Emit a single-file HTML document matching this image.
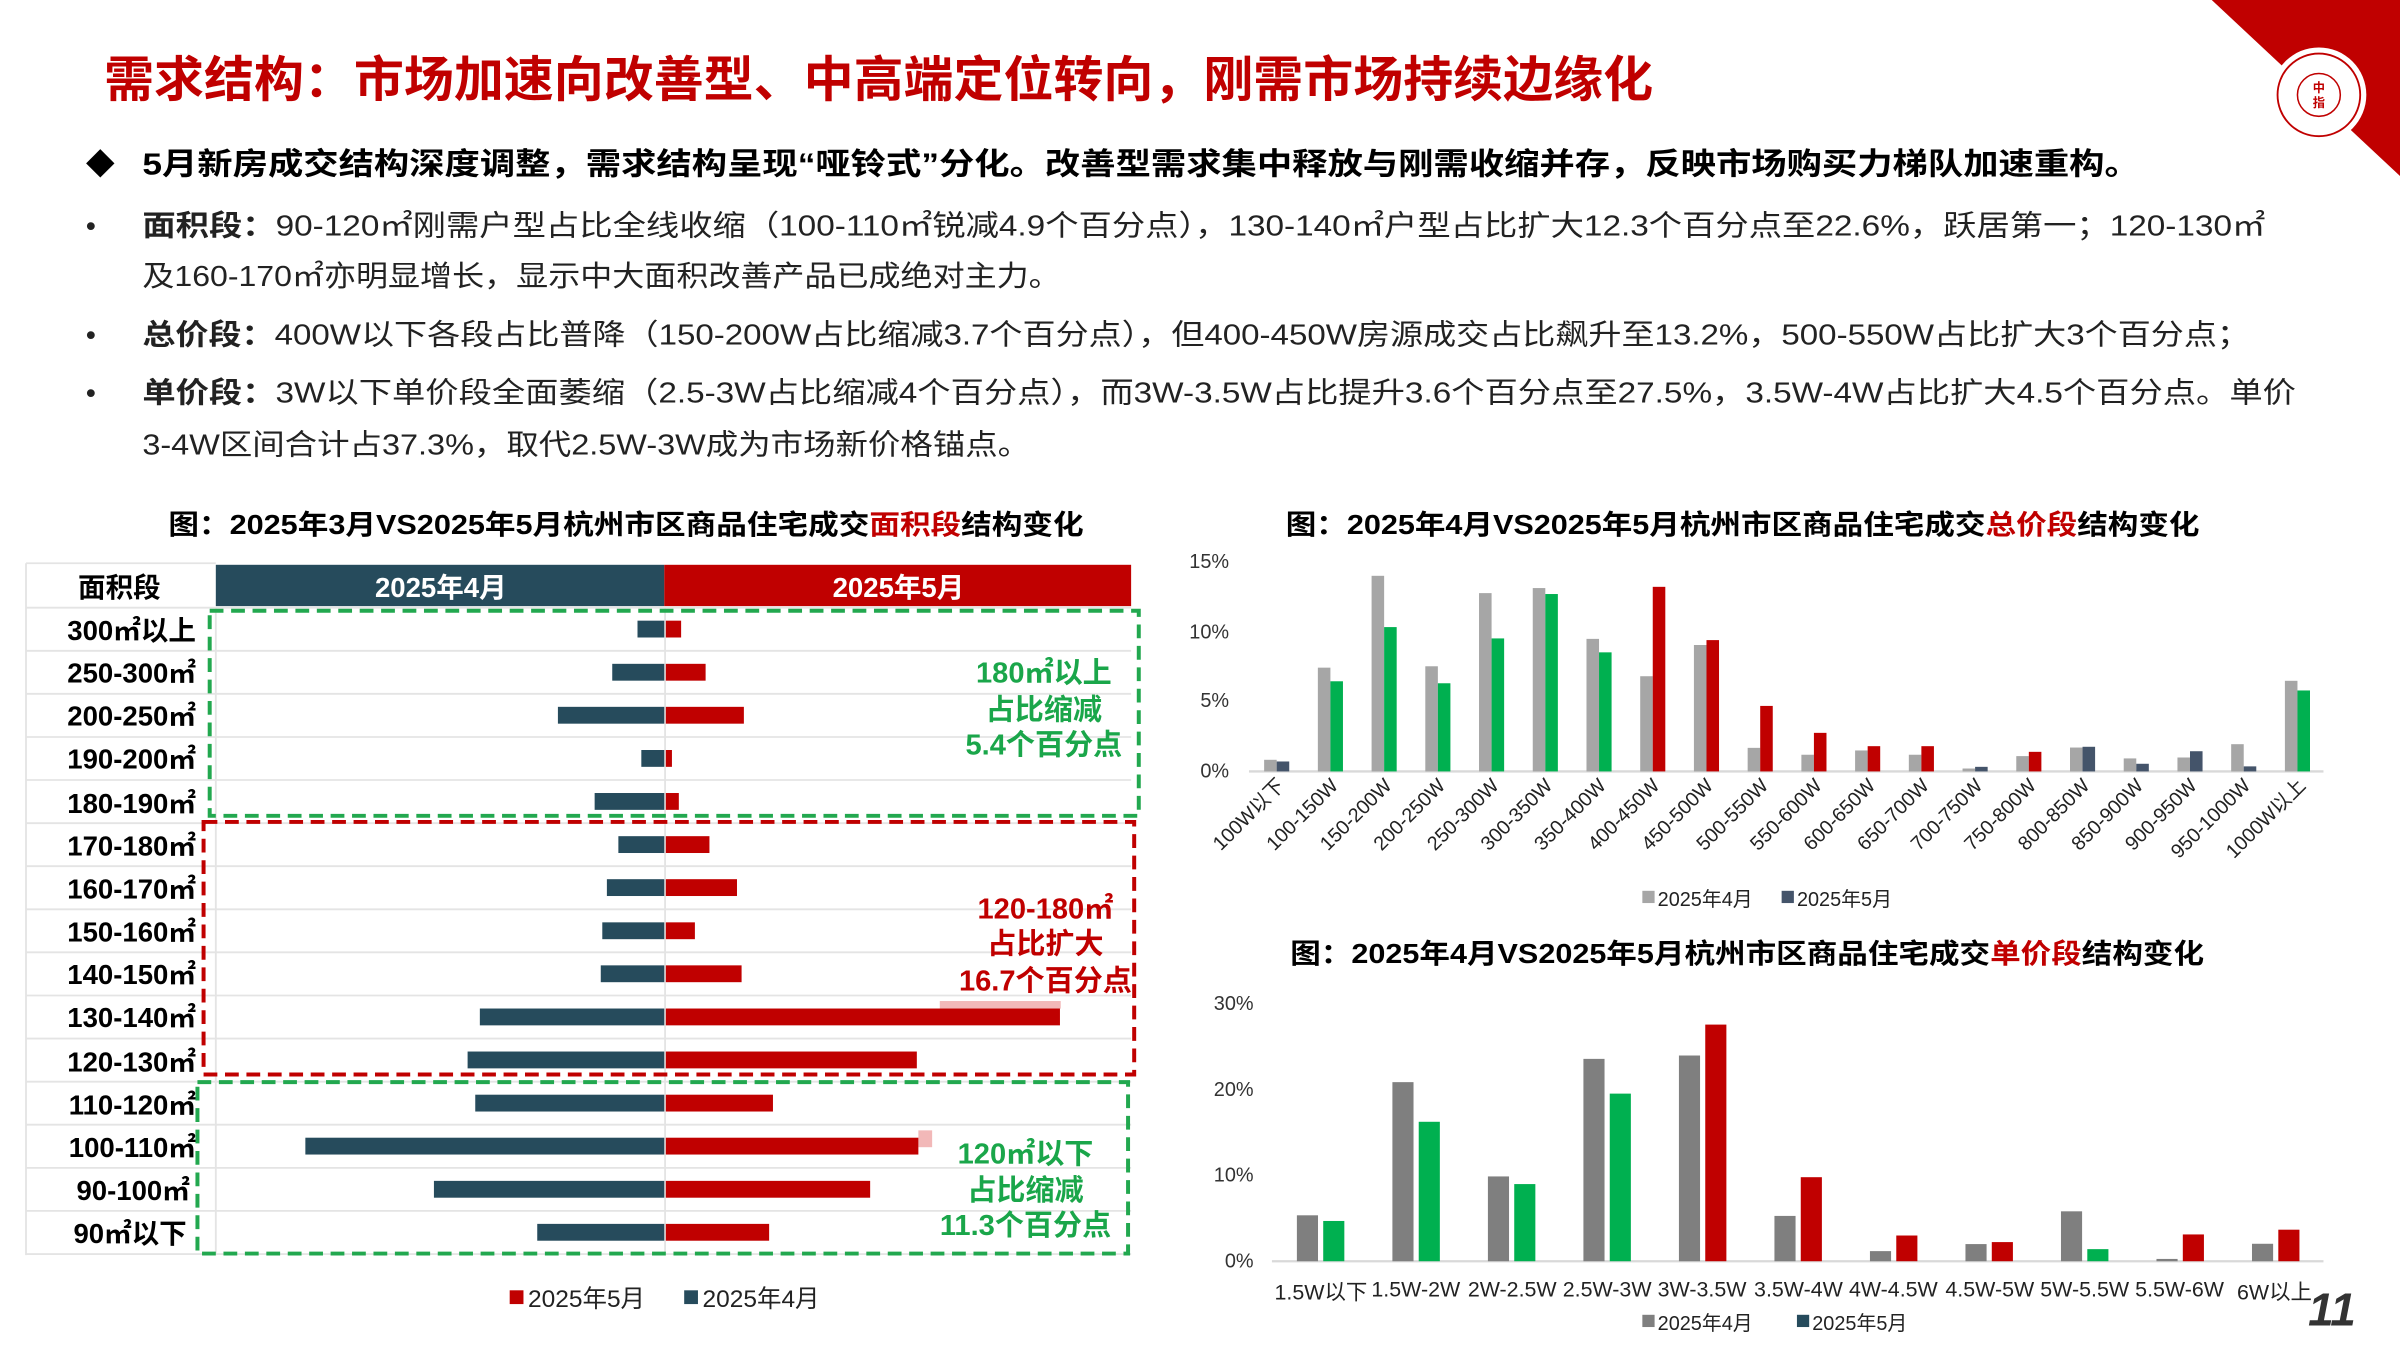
<!DOCTYPE html>
<html><head><meta charset="utf-8"><style>
html,body{margin:0;padding:0;background:#fff;}
svg{display:block;}
text{font-family:"Liberation Sans","Noto Sans CJK SC",sans-serif;}
.b{font-weight:bold;}
</style></head><body>
<svg width="2400" height="1350" viewBox="0 0 1568 882" xmlns="http://www.w3.org/2000/svg">
<rect width="1568" height="882" fill="#fff"/>
<!-- corner -->
<polygon points="1445,0 1568,0 1568,115" fill="#c00000"/>
<circle cx="1515" cy="62" r="31" fill="#fff"/>
<circle cx="1515" cy="62" r="27" fill="none" stroke="#c00000" stroke-width="1.2"/>
<circle cx="1515" cy="62" r="14" fill="none" stroke="#c00000" stroke-width="1"/>
<text x="1515" y="60" font-size="8" fill="#c00000" text-anchor="middle" class="b">中</text>
<text x="1515" y="70" font-size="8" fill="#c00000" text-anchor="middle" class="b">指</text>
<!-- title -->
<text x="68" y="63" font-size="32" class="b" fill="#c00000" textLength="1012" lengthAdjust="spacingAndGlyphs">需求结构：市场加速向改善型、中高端定位转向，刚需市场持续边缘化</text>
<text x="56" y="114" font-size="19" fill="#000">◆</text>
<text x="93" y="114" font-size="20" class="b" fill="#000" textLength="1305" lengthAdjust="spacingAndGlyphs">5月新房成交结构深度调整，需求结构呈现“哑铃式”分化。改善型需求集中释放与刚需收缩并存，反映市场购买力梯队加速重构。</text>
<g font-size="19" fill="#222">
<text x="56" y="154">•</text><text x="56" y="225">•</text><text x="56" y="263">•</text>
<text x="93" y="154" textLength="1387" lengthAdjust="spacingAndGlyphs"><tspan class="b">面积段：</tspan>90-120㎡刚需户型占比全线收缩（100-110㎡锐减4.9个百分点），130-140㎡户型占比扩大12.3个百分点至22.6%，跃居第一；120-130㎡</text>
<text x="93" y="187" textLength="600" lengthAdjust="spacingAndGlyphs">及160-170㎡亦明显增长，显示中大面积改善产品已成绝对主力。</text>
<text x="93" y="225" textLength="1377" lengthAdjust="spacingAndGlyphs"><tspan class="b">总价段：</tspan>400W以下各段占比普降（150-200W占比缩减3.7个百分点），但400-450W房源成交占比飙升至13.2%，500-550W占比扩大3个百分点；</text>
<text x="93" y="263" textLength="1407" lengthAdjust="spacingAndGlyphs"><tspan class="b">单价段：</tspan>3W以下单价段全面萎缩（2.5-3W占比缩减4个百分点），而3W-3.5W占比提升3.6个百分点至27.5%，3.5W-4W占比扩大4.5个百分点。单价</text>
<text x="93" y="297" textLength="580" lengthAdjust="spacingAndGlyphs">3-4W区间合计占37.3%，取代2.5W-3W成为市场新价格锚点。</text>
</g>

<!-- LEFT TABLE CHART -->
<text x="110" y="349" font-size="18" class="b" fill="#000" textLength="598" lengthAdjust="spacingAndGlyphs">图：2025年3月VS2025年5月杭州市区商品住宅成交<tspan fill="#c00000">面积段</tspan>结构变化</text>
<rect x="141" y="369" width="293" height="27" fill="#264b5c"/>
<rect x="434" y="369" width="305" height="27" fill="#c00000"/>
<text x="78" y="390" font-size="18" class="b" text-anchor="middle">面积段</text>
<text x="288" y="390" font-size="18" class="b" fill="#fff" text-anchor="middle">2025年4月</text>
<text x="587" y="390" font-size="18" class="b" fill="#fff" text-anchor="middle">2025年5月</text>
<g stroke="#e4e4e4" stroke-width="1.2">
<line x1="17" y1="368" x2="141" y2="368"/><line x1="17" y1="368" x2="17" y2="820"/>
<line x1="17" y1="397" x2="739" y2="397"/><line x1="17" y1="425.2" x2="739" y2="425.2"/><line x1="17" y1="453.3" x2="739" y2="453.3"/><line x1="17" y1="481.5" x2="739" y2="481.5"/><line x1="17" y1="509.6" x2="739" y2="509.6"/><line x1="17" y1="537.8" x2="739" y2="537.8"/><line x1="17" y1="565.9" x2="739" y2="565.9"/><line x1="17" y1="594.1" x2="739" y2="594.1"/><line x1="17" y1="622.2" x2="739" y2="622.2"/><line x1="17" y1="650.4" x2="739" y2="650.4"/><line x1="17" y1="678.5" x2="739" y2="678.5"/><line x1="17" y1="706.7" x2="739" y2="706.7"/><line x1="17" y1="734.8" x2="739" y2="734.8"/><line x1="17" y1="763" x2="739" y2="763"/><line x1="17" y1="791.1" x2="739" y2="791.1"/><line x1="17" y1="819.3" x2="739" y2="819.3"/>
<line x1="141" y1="397" x2="141" y2="820"/><line x1="434.5" y1="397" x2="434.5" y2="820"/>
</g>
<g font-size="18" class="b" text-anchor="end" fill="#000">
<text x="128" y="418">300㎡以上</text><text x="128" y="446">250-300㎡</text><text x="128" y="474">200-250㎡</text><text x="128" y="502">190-200㎡</text><text x="128" y="531">180-190㎡</text><text x="128" y="559">170-180㎡</text><text x="128" y="587">160-170㎡</text><text x="128" y="615">150-160㎡</text><text x="128" y="643">140-150㎡</text><text x="128" y="671">130-140㎡</text><text x="128" y="700">120-130㎡</text><text x="128" y="728">110-120㎡</text><text x="128" y="756">100-110㎡</text><text x="124" y="784">90-100㎡</text><text x="122" y="812">90㎡以下</text>
</g>
<g fill="#264b5c">
<rect x="416.5" y="405.5" width="17.5" height="11"/><rect x="400" y="433.7" width="34" height="11"/><rect x="364.5" y="461.8" width="69.5" height="11"/><rect x="419" y="490" width="15" height="11"/><rect x="388.5" y="518.1" width="45.5" height="11"/><rect x="404" y="546.3" width="30" height="11"/><rect x="396.5" y="574.4" width="37.5" height="11"/><rect x="393.5" y="602.6" width="40.5" height="11"/><rect x="392.5" y="630.7" width="41.5" height="11"/><rect x="313.5" y="658.9" width="120.5" height="11"/><rect x="305.5" y="687" width="128.5" height="11"/><rect x="310.5" y="715.2" width="123.5" height="11"/><rect x="199.5" y="743.3" width="234.5" height="11"/><rect x="283.5" y="771.5" width="150.5" height="11"/><rect x="351" y="799.6" width="83" height="11"/>
</g>
<rect x="600" y="738.5" width="9" height="11" fill="#f2b8b8"/>
<rect x="614" y="654" width="79" height="5" fill="#f2b8b8"/>
<g fill="#c00000">
<rect x="435" y="405.5" width="10" height="11"/><rect x="435" y="433.7" width="26" height="11"/><rect x="435" y="461.8" width="51" height="11"/><rect x="435" y="490" width="4" height="11"/><rect x="435" y="518.1" width="8.5" height="11"/><rect x="435" y="546.3" width="28.5" height="11"/><rect x="435" y="574.4" width="46.5" height="11"/><rect x="435" y="602.6" width="19" height="11"/><rect x="435" y="630.7" width="49.5" height="11"/><rect x="435" y="658.9" width="257.5" height="11"/><rect x="435" y="687" width="164" height="11"/><rect x="435" y="715.2" width="70" height="11"/><rect x="435" y="743.3" width="165" height="11"/><rect x="435" y="771.5" width="133.5" height="11"/><rect x="435" y="799.6" width="67.5" height="11"/>
</g>
<g fill="none" stroke-width="2.6" stroke-dasharray="9,5">
<rect x="137" y="399" width="607" height="134" stroke="#22a84f"/>
<rect x="133" y="537" width="608" height="165" stroke="#c00000"/>
<rect x="129" y="707" width="608" height="112" stroke="#22a84f"/>
</g>
<g font-size="19" class="b" text-anchor="middle">
<text x="682" y="446" fill="#1aa64a">180㎡以上</text><text x="682" y="470" fill="#1aa64a">占比缩减</text><text x="682" y="493" fill="#1aa64a">5.4个百分点</text>
<text x="683" y="600" fill="#c00000">120-180㎡</text><text x="683" y="623" fill="#c00000">占比扩大</text><text x="683" y="647" fill="#c00000">16.7个百分点</text>
<text x="670" y="760" fill="#1aa64a">120㎡以下</text><text x="670" y="784" fill="#1aa64a">占比缩减</text><text x="670" y="807" fill="#1aa64a">11.3个百分点</text>
</g>
<rect x="333" y="843" width="9" height="9" fill="#c00000"/><text x="345" y="854" font-size="16" fill="#222">2025年5月</text>
<rect x="447" y="843" width="9" height="9" fill="#264b5c"/><text x="459" y="854" font-size="16" fill="#222">2025年4月</text>

<!-- CHART 1 total price -->
<text x="840" y="349" font-size="18" class="b" fill="#000" textLength="597" lengthAdjust="spacingAndGlyphs">图：2025年4月VS2025年5月杭州市区商品住宅成交<tspan fill="#c00000">总价段</tspan>结构变化</text>
<g font-size="13" fill="#333" text-anchor="end">
<text x="803" y="371">15%</text><text x="803" y="417">10%</text><text x="803" y="462">5%</text><text x="803" y="508">0%</text>
</g>
<line x1="816" y1="504" x2="1518" y2="504" stroke="#d9d9d9" stroke-width="1.5"/>
<g fill="#a6a6a6">
<rect x="825.9" y="496.4" width="8.2" height="7.6"/><rect x="861" y="436.2" width="8.2" height="67.8"/><rect x="896.1" y="376.2" width="8.2" height="127.8"/><rect x="931.2" y="435.3" width="8.2" height="68.7"/><rect x="966.3" y="387.5" width="8.2" height="116.5"/><rect x="1001.4" y="384.2" width="8.2" height="119.8"/><rect x="1036.5" y="417.4" width="8.2" height="86.6"/><rect x="1071.6" y="441.8" width="8.2" height="62.2"/><rect x="1106.7" y="421.4" width="8.2" height="82.6"/><rect x="1141.8" y="488.6" width="8.2" height="15.4"/><rect x="1176.9" y="493.1" width="8.2" height="10.9"/><rect x="1212" y="490.3" width="8.2" height="13.7"/><rect x="1247.1" y="493.1" width="8.2" height="10.9"/><rect x="1282.2" y="502.1" width="8.2" height="1.9"/><rect x="1317.3" y="494" width="8.2" height="10"/><rect x="1352.4" y="488.4" width="8.2" height="15.6"/><rect x="1387.5" y="495.5" width="8.2" height="8.5"/><rect x="1422.6" y="494.9" width="8.2" height="9.1"/><rect x="1457.7" y="486.2" width="8.2" height="17.8"/><rect x="1492.8" y="444.8" width="8.2" height="59.2"/>
</g>
<g fill="#00b050">
<rect x="869.2" y="445.1" width="8.2" height="58.9"/><rect x="904.3" y="409.7" width="8.2" height="94.3"/><rect x="939.4" y="446.4" width="8.2" height="57.6"/><rect x="974.5" y="417.1" width="8.2" height="86.9"/><rect x="1009.6" y="388.1" width="8.2" height="115.9"/><rect x="1044.7" y="426.2" width="8.2" height="77.8"/><rect x="1501" y="451.1" width="8.2" height="52.9"/>
</g>
<g fill="#c00000">
<rect x="1079.8" y="383.4" width="8.2" height="120.6"/><rect x="1114.9" y="418.2" width="8.2" height="85.8"/><rect x="1150" y="461.2" width="8.2" height="42.8"/><rect x="1185.1" y="478.8" width="8.2" height="25.2"/><rect x="1220.2" y="487.5" width="8.2" height="16.5"/><rect x="1255.3" y="487.5" width="8.2" height="16.5"/><rect x="1325.5" y="491.2" width="8.2" height="12.8"/>
</g>
<g fill="#44546a">
<rect x="834.1" y="497.5" width="8.2" height="6.5"/><rect x="1290.4" y="501" width="8.2" height="3"/><rect x="1360.6" y="487.9" width="8.2" height="16.1"/><rect x="1395.7" y="499" width="8.2" height="5"/><rect x="1430.8" y="490.8" width="8.2" height="13.2"/><rect x="1465.9" y="500.7" width="8.2" height="3.3"/>
</g>
<g font-size="13" fill="#222" text-anchor="end">
<text transform="translate(840,514) rotate(-45)">100W以下</text>
<text transform="translate(875,514) rotate(-45)">100-150W</text>
<text transform="translate(910,514) rotate(-45)">150-200W</text>
<text transform="translate(945,514) rotate(-45)">200-250W</text>
<text transform="translate(980,514) rotate(-45)">250-300W</text>
<text transform="translate(1015,514) rotate(-45)">300-350W</text>
<text transform="translate(1050,514) rotate(-45)">350-400W</text>
<text transform="translate(1085,514) rotate(-45)">400-450W</text>
<text transform="translate(1120,514) rotate(-45)">450-500W</text>
<text transform="translate(1156,514) rotate(-45)">500-550W</text>
<text transform="translate(1191,514) rotate(-45)">550-600W</text>
<text transform="translate(1226,514) rotate(-45)">600-650W</text>
<text transform="translate(1261,514) rotate(-45)">650-700W</text>
<text transform="translate(1296,514) rotate(-45)">700-750W</text>
<text transform="translate(1331,514) rotate(-45)">750-800W</text>
<text transform="translate(1366,514) rotate(-45)">800-850W</text>
<text transform="translate(1401,514) rotate(-45)">850-900W</text>
<text transform="translate(1436,514) rotate(-45)">900-950W</text>
<text transform="translate(1471,514) rotate(-45)">950-1000W</text>
<text transform="translate(1507,514) rotate(-45)">1000W以上</text>
</g>
<rect x="1073" y="582" width="8" height="8" fill="#a6a6a6"/><text x="1083" y="592" font-size="13" fill="#222">2025年4月</text>
<rect x="1164" y="582" width="8" height="8" fill="#44546a"/><text x="1174" y="592" font-size="13" fill="#222">2025年5月</text>

<!-- CHART 2 unit price -->
<text x="843" y="629" font-size="18" class="b" fill="#000" textLength="597" lengthAdjust="spacingAndGlyphs">图：2025年4月VS2025年5月杭州市区商品住宅成交<tspan fill="#c00000">单价段</tspan>结构变化</text>
<g font-size="13" fill="#333" text-anchor="end">
<text x="819" y="660">30%</text><text x="819" y="716">20%</text><text x="819" y="772">10%</text><text x="819" y="828">0%</text>
</g>
<line x1="831" y1="824" x2="1518" y2="824" stroke="#d9d9d9" stroke-width="1.5"/>
<g fill="#7f7f7f">
<rect x="847.3" y="794" width="13.8" height="30"/><rect x="909.7" y="707" width="13.8" height="117"/><rect x="972.1" y="768.6" width="13.8" height="55.4"/><rect x="1034.5" y="691.8" width="13.8" height="132.2"/><rect x="1096.9" y="689.6" width="13.8" height="134.4"/><rect x="1159.3" y="794.4" width="13.8" height="29.6"/><rect x="1221.7" y="817.4" width="13.8" height="6.6"/><rect x="1284.1" y="812.8" width="13.8" height="11.2"/><rect x="1346.5" y="791.4" width="13.8" height="32.6"/><rect x="1408.9" y="822.5" width="13.8" height="1.5"/><rect x="1471.3" y="812.6" width="13.8" height="11.4"/>
</g>
<g fill="#00b050">
<rect x="864.5" y="797.7" width="13.8" height="26.3"/><rect x="926.9" y="732.9" width="13.8" height="91.1"/><rect x="989.3" y="773.6" width="13.8" height="50.4"/><rect x="1051.7" y="714.5" width="13.8" height="109.5"/><rect x="1363.7" y="816.1" width="13.8" height="7.9"/>
</g>
<g fill="#c00000">
<rect x="1114.1" y="669.4" width="13.8" height="154.6"/><rect x="1176.5" y="769.1" width="13.8" height="54.9"/><rect x="1238.9" y="807.2" width="13.8" height="16.8"/><rect x="1301.3" y="811.5" width="13.8" height="12.5"/><rect x="1426.1" y="806.5" width="13.8" height="17.5"/><rect x="1488.5" y="803.4" width="13.8" height="20.6"/>
</g>
<g font-size="14" fill="#222" text-anchor="middle">
<text x="863" y="849">1.5W以下</text><text x="925" y="847">1.5W-2W</text><text x="988" y="847">2W-2.5W</text><text x="1050" y="847">2.5W-3W</text><text x="1112" y="847">3W-3.5W</text><text x="1175" y="847">3.5W-4W</text><text x="1237" y="847">4W-4.5W</text><text x="1300" y="847">4.5W-5W</text><text x="1362" y="847">5W-5.5W</text><text x="1424" y="847">5.5W-6W</text><text x="1486" y="849">6W以上</text>
</g>
<rect x="1073" y="859" width="8" height="8" fill="#7f7f7f"/><text x="1083" y="869" font-size="13" fill="#222">2025年4月</text>
<rect x="1174" y="859" width="8" height="8" fill="#264b5c"/><text x="1184" y="869" font-size="13" fill="#222">2025年5月</text>
<text x="1508" y="866" font-size="30" font-style="italic" class="b" fill="#333">11</text>
</svg>
</body></html>
